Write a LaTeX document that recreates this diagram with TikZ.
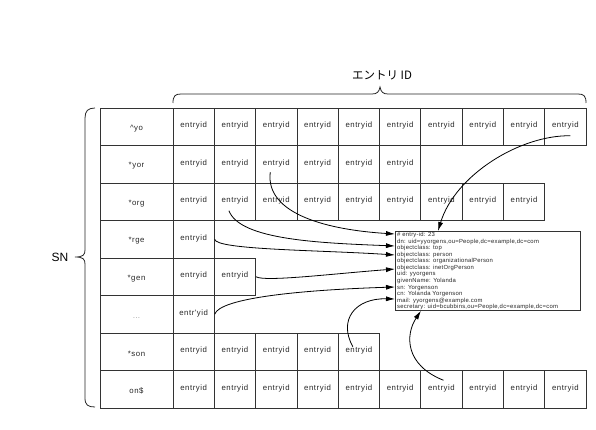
\documentclass[tikz,border=0pt]{standalone}
\usepackage{fontspec}
\setmainfont{Liberation Sans}
\newfontfamily\spacedfont[LetterSpace=7]{Liberation Sans}
\newfontfamily\cjkfont{Noto Sans CJK JP}
\usetikzlibrary{arrows.meta,calc}
\begin{document}
\begin{tikzpicture}[x=1pt,y=-1pt,
  cell/.style={draw=black!80, line width=0.7pt, minimum width=41.3pt, minimum height=37.5pt, inner sep=0pt, text=black!85, font=\spacedfont\fontsize{7.8}{10}\selectfont},
  entrycell/.style={cell, text depth=3.5pt},
  keycell/.style={cell, minimum width=73pt, text height=9pt},
  link/.style={line width=0.8pt, -{Latex[length=9pt,width=5pt]}},
  brace/.style={line width=0.8pt, black!85},
]
\useasboundingbox (0,0) rectangle (596,430);
% rows
\foreach \r/\lab/\n in {1/\textasciicircum yo/10, 2/*yor/6, 3/*org/9, 4/*rge/1, 5/*gen/2, 7/*son/5, 8/on\$/10} {
  \node[keycell] (k\r) at (136.5, {108+37.5*(\r-0.5)}) {\lab};
  \foreach \c in {1,...,\n} {
    \node[entrycell] (c\r-\c) at ({173+41.3*(\c-0.5)}, {108+37.5*(\r-0.5)}) {entryid};
  }
}
\node[keycell] (k6) at (136.5, {108+37.5*5.5}) {\color{black!40}…};
\node[entrycell] (c6-1) at ({173+41.3*0.5}, {108+37.5*5.5}) {entr'yid};
% record box
\node[draw=black!80, line width=0.7pt, anchor=north west, minimum width=185pt, minimum height=79pt, inner sep=0pt] (rec) at (395,231) {};
\node[anchor=north west, align=left, inner xsep=2pt, inner ysep=1.2pt, text=black!85, font=\fontsize{5.9}{6.55}\selectfont\addfontfeature{LetterSpace=4}] (rectxt) at (rec.north west)
 {\# entry-id: 23\\
  dn: uid=yyorgens,ou=People,dc=example,dc=com\\
  objectclass: top\\
  objectclass: person\\
  objectclass: organizationalPerson\\
  objectclass: inetOrgPerson\\
  uid: yyorgens\\
  givenName: Yolanda\\
  sn: Yorgenson\\
  cn: Yolanda Yorgenson\\
  mail: yyorgens@example.com\\
  secretary: uid=bcubbins,ou=People,dc=example,dc=com};
% braces
\draw[brace] (173,103) .. controls (173,96) and (175,94) .. (181,94) -- (372,94)
  .. controls (377,94) and (379,92) .. (380,87) .. controls (381,92) and (383,94) .. (388,94)
  -- (578,94) .. controls (584,94) and (586,96) .. (586,103);
\draw[brace] (95,108) .. controls (88,108) and (85,111) .. (85,118) -- (85,250)
  .. controls (85,255) and (83,257) .. (75,257) .. controls (83,257) and (85,259) .. (85,264)
  -- (85,398) .. controls (85,405) and (88,407) .. (95,407);
\node[font=\fontsize{12}{14}\selectfont] (sn) at (60,257) {SN};
\node[font=\cjkfont\fontsize{11.5}{13}\selectfont] (eid) at (382,75) {エントリ ID};
% connectors
\draw[link] ([shift={(5,9)}]c1-10.center) .. controls (520,135) and (455,175) .. ($(rec.north west)+(43,0)$);
\draw[link] ([shift={(-6,8)}]c2-3.center) .. controls (265,215) and (330,230) .. ($(rec.north west)+(0,3)$);
\draw[link] ([shift={(-6,9)}]c3-2.center) .. controls (240,240) and (320,243) .. ($(rec.north west)+(0,15)$);
\draw[link] (c4-1.east) .. controls (216,250) and (320,250) .. ($(rec.north west)+(0,24)$);
\draw[link] (c5-2.east) .. controls (265,282) and (330,274) .. ($(rec.north west)+(0,38)$);
\draw[link] (c6-1.east) .. controls (220,298) and (300,290) .. ($(rec.north west)+(0,56)$);
\draw[link] ([shift={(-6,-5)}]c7-5.center) .. controls (338,320) and (355,298) .. ($(rec.north west)+(0,68)$);
\draw[link] ([shift={(2,-9)}]c8-7.center) .. controls (405,365) and (405,335) .. ($(rec.south west)+(26,0)$);
\end{tikzpicture}
\end{document}
